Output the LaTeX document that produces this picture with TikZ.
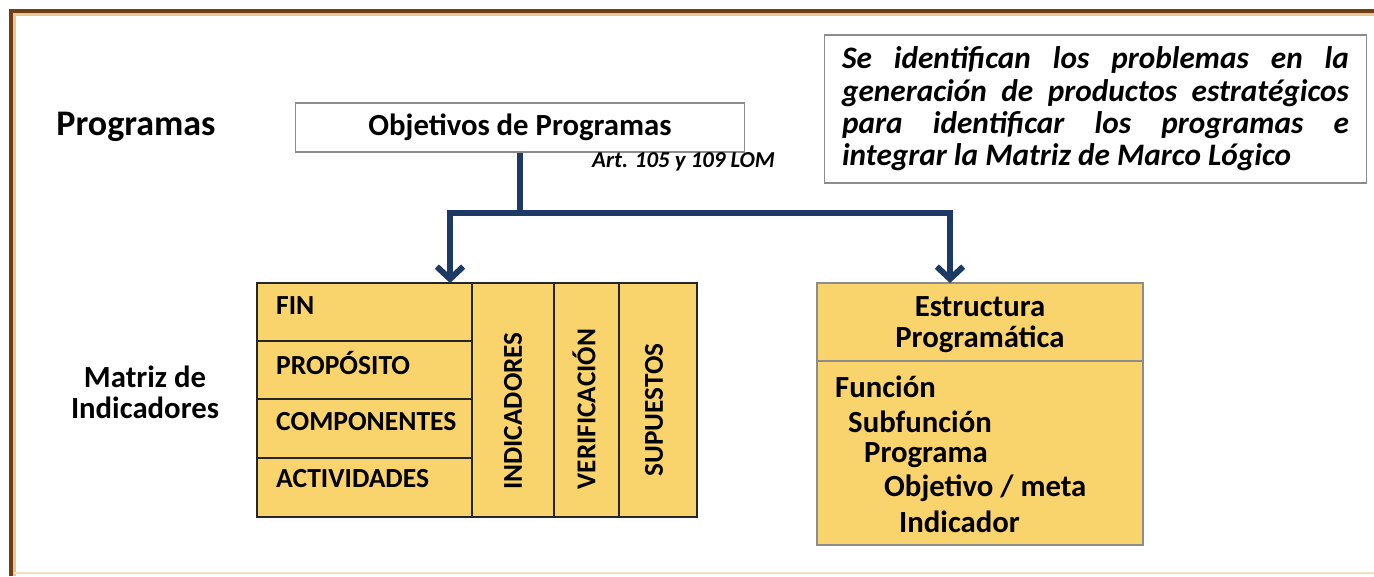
\documentclass[tikz,border=0pt]{standalone}
\usepackage{fontspec}
\setmainfont{Carlito}
\usepackage{tikz}
\usetikzlibrary{calc,arrows.meta}
\tikzset{>=stealth}
\definecolor{marco}{HTML}{6E3F12}
\definecolor{marcoclaro}{HTML}{E8C89A}
\definecolor{oro}{HTML}{F9D36C}
\definecolor{azul}{HTML}{1C3A63}
\definecolor{gris}{HTML}{8C8C8C}

\begin{document}
\begin{tikzpicture}[x=0.02cm,y=-0.02cm,
    titulo/.style={font=\fontsize{17.5}{17.6}\selectfont\bfseries},
    fila/.style={anchor=west,font=\fontsize{15.7}{18}\selectfont\bfseries},
    columna/.style={rotate=90,font=\fontsize{15.5}{18}\selectfont\bfseries},
    item/.style={anchor=west,font=\fontsize{17.5}{19}\selectfont\bfseries},
    borde/.style={draw=black!85,line width=1.2pt},
    conector/.style={draw=azul,line width=3.4pt},
    flecha/.style={conector,-{Straight Barb[length=7pt,width=15pt]}}]
      \useasboundingbox (0,0) rectangle (1374,576);
      % marco
      \draw[marcoclaro,line width=2pt] (14,576) -- (14,14) -- (1374,14);
      \draw[marcoclaro!60,line width=1pt] (14,573) -- (1374,573);
      \draw[marco,line width=2.4pt] (11,576) -- (11,11) -- (1374,11);
      % programas
      \node[titulo,font=\fontsize{20.5}{22}\selectfont\bfseries] (prog) at (136,127) {Programas};
      \node[titulo,draw=gris,line width=0.6pt,minimum width=9cm,minimum height=0.98cm] (obj) at (520,127.5) {Objetivos de Programas};
      \node[font=\fontsize{13}{15}\selectfont\bfseries\itshape,anchor=west] (art) at (586,162) {Art. 105 y 109 LOM};
      \node[draw=gris,line width=0.6pt,text width=10.14cm,align=justify,inner sep=0pt,minimum width=10.86cm,minimum height=2.96cm,
            font=\fontsize{17.8}{32.5\dimexpr 0.5669pt\relax}\selectfont\bfseries\itshape] (nota) at (1095.5,109)
        {Se identifican los problemas en la\linebreak generación de productos estratégicos\linebreak para identificar los programas e\linebreak integrar la Matriz de Marco Lógico};
      % matriz
      \node[titulo,align=center] (matriz) at (145,392) {Matriz de\\Indicadores};
      \fill[oro] (257,283) rectangle (697,517);
      \foreach \y in {341,399,458} \draw[borde] (257,\y) -- (472,\y);
      \foreach \x in {472,554,619} \draw[borde] (\x,283) -- (\x,517);
      \draw[borde] (257,283) rectangle (697,517);
      \coordinate (mtop) at (450,283);
      \node[fila] (fin) at (270,306) {FIN};
      \node[fila] (prop) at (270,363) {PROPÓSITO};
      \node[fila] (comp) at (270,422) {COMPONENTES};
      \node[fila] (act) at (270,479) {ACTIVIDADES};
      \node[columna] (ind) at (513,411) {INDICADORES};
      \node[columna] (ver) at (584,409) {VERIFICACIÓN};
      \node[columna] (sup) at (654,410) {SUPUESTOS};
      % estructura programatica
      \filldraw[fill=oro,draw=gris,line width=0.8pt] (817,283) rectangle (1143,545);
      \draw[gris,line width=0.8pt] (817,361) -- (1143,361);
      \coordinate (etop) at (950,283);
      \node[titulo,align=center] (est) at (980,325) {Estructura\\Programática};
      \node[item] (f1) at (829,387) {Función};
      \node[item] (f2) at (842,422) {Subfunción};
      \node[item] (f3) at (858,455) {Programa};
      \node[item] (f4) at (878,488) {Objetivo / meta};
      \node[item] (f5) at (893,522) {Indicador};
      % conectores
      \draw[conector] (obj.south) -- ++(0,60) coordinate (nudo);
      \draw[flecha] (nudo) -| (mtop);
      \draw[flecha] (nudo) -| (etop);
\end{tikzpicture}
\end{document}
